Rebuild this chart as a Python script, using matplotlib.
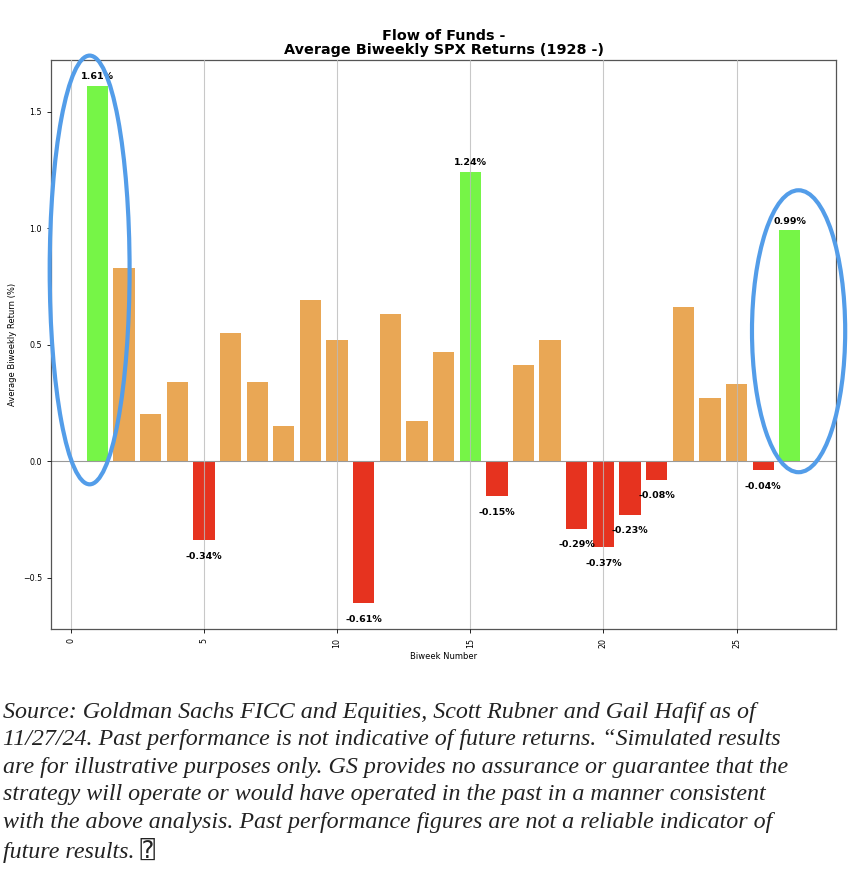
import matplotlib
matplotlib.use("Agg")
import matplotlib.pyplot as plt
from matplotlib.patches import Ellipse
import numpy as np

# average biweekly SPX returns (%), biweek 1..27
biweeks = list(range(1, 28))
returns = [1.61, 0.83, 0.20, 0.34, -0.34, 0.55, 0.34, 0.15, 0.69, 0.52,
           -0.61, 0.63, 0.17, 0.47, 1.24, -0.15, 0.41, 0.52, -0.29, -0.37,
           -0.23, -0.08, 0.66, 0.27, 0.33, -0.04, 0.99]
highlight = [1, 15, 27]  # green bars

GREEN = '#76f547'
ORANGE = '#e9a755'
RED = '#e6331f'
BLUE = '#539de9'

colors = []
for b, v in zip(biweeks, returns):
    if b in highlight:
        colors.append(GREEN)
    elif v < 0:
        colors.append(RED)
    else:
        colors.append(ORANGE)

note_lines = [
    "Source: Goldman Sachs FICC and Equities, Scott Rubner and Gail Hafif as of",
    "11/27/24. Past performance is not indicative of future returns. \u201cSimulated results",
    "are for illustrative purposes only. GS provides no assurance or guarantee that the",
    "strategy will operate or would have operated in the past in a manner consistent",
    "with the above analysis. Past performance figures are not a reliable indicator of",
    "future results. \u2370",
]

fig = plt.figure(figsize=(8.62, 8.80), dpi=100)
ax = fig.add_axes([0.0592, 0.2852, 0.9108, 0.6466])

ax.bar(biweeks, returns, width=0.8, color=colors, zorder=1)
ax.grid(axis='x', color='#bbbbbb', linewidth=0.8, alpha=0.8, zorder=2)
ax.set_axisbelow(False)
ax.axhline(0, color='#999999', linewidth=0.8, zorder=2)

for b, v in zip(biweeks, returns):
    if b in highlight:
        ax.text(b, v + 0.02, f'{v:.2f}%', ha='center', va='bottom',
                fontsize=6.8, fontweight='bold', zorder=4)
    elif v < 0:
        ax.text(b, v - 0.05, f'{v:.2f}%', ha='center', va='top',
                fontsize=6.8, fontweight='bold', zorder=4)

# highlight ellipses around first and last biweek
ax.add_patch(Ellipse((highlight[0] - 0.29, 0.82), 3.0, 1.84, fill=False,
                     edgecolor=BLUE, linewidth=3, clip_on=False, zorder=5))
ax.add_patch(Ellipse((highlight[-1] + 0.33, 0.557), 3.5, 1.21, fill=False,
                     edgecolor=BLUE, linewidth=3, clip_on=False, zorder=5))

ax.set_title('Flow of Funds -\nAverage Biweekly SPX Returns (1928 -)',
             fontsize=10.4, fontweight='bold', pad=4, linespacing=1.05)
ax.set_xlabel('Biweek Number', fontsize=6, labelpad=3)
ax.set_ylabel('Average Biweekly Return (%)', fontsize=6, labelpad=4)
ax.tick_params(axis='both', labelsize=5.7, length=3, width=0.6)
ax.tick_params(axis='x', labelrotation=90)
for s in ax.spines.values():
    s.set_color('#555555')
    s.set_linewidth(0.9)

# footnote, one text per line so the fallback glyph keeps the spacing even
line_step = 27.6 / 880
for i, line in enumerate(note_lines):
    fig.text(0.004, 1 - 712 / 880 - i * line_step, line, ha='left', va='center',
             fontsize=17.3, style='italic',
             family=['Liberation Serif', 'DejaVu Sans Mono', 'DejaVu Sans'],
             color='#222222')

fig.savefig('out.png', dpi=100)
